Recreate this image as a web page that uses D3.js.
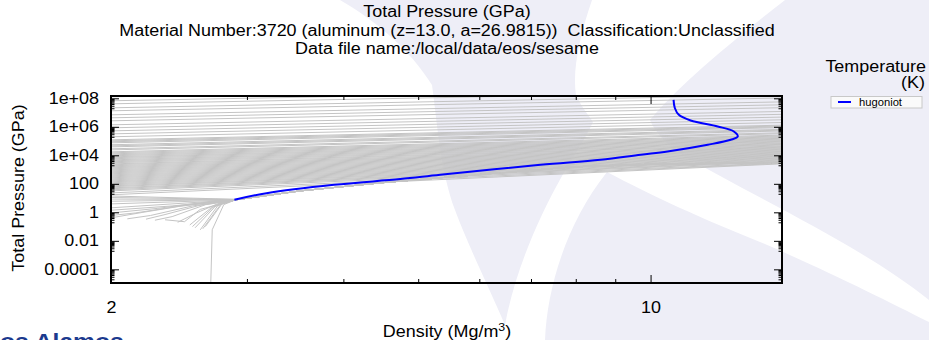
<!DOCTYPE html>
<html>
<head>
<meta charset="utf-8">
<script src="https://cdn.jsdelivr.net/npm/d3@7"></script>
<style>
  body { margin: 0; background: #fff; }
  svg { display: block; }
  text { font-family: "Liberation Sans", Arial, Helvetica, sans-serif; fill: #000; }
</style>
</head>
<body>
<svg id="chart" width="929" height="340"></svg>
<script>
// ---- data ----
const densityDomain = [2, 14.8];          // Mg/m^3
const pressureDomain = [1.1e-5, 1.45e8];  // GPa

const yMajorTicks = [1e-4, 1e-2, 1, 100, 1e4, 1e6, 1e8];
const yTickLabels = ["0.0001", "0.01", "1", "100", "1e+04", "1e+06", "1e+08"];
const xMajorTicks = [2, 10];
const xTickLabels = ["2", "10"];
const xMinorTicks = [3, 4, 5, 6, 7, 8, 9];

// hot isotherms: pressure at the left edge (rho=2) and at the right edge (rho=14.8)
const isothermEndDensity = [2, 14.8];
const hotLeftPressure = [1.27e8, 6.7e7, 4.1e7, 2.15e7, 1.33e7, 6.95e6, 4.28e6, 2.64e6, 1.38e6, 8.5e5,
  5.2e5, 3.2e5, 2.0e5, 1.22e5, 8.9e4, 5.5e4, 3.9e4, 2.4e4, 1.76e4, 1.27e4,
  9.2e3, 6.7e3, 4.8e3, 3.5e3, 2.5e3, 1.83e3, 1.33e3, 960, 695, 504,
  364, 264, 191, 138, 100, 72, 52, 38, 32, 23, 17,
  1.04e5, 7.5e4, 4.6e4, 2.86e4, 1.5e4, 1.08e4, 7.8e3, 5.7e3,
  4.1e3, 2.98e3, 2.15e3, 1.56e3, 1.13e3, 817, 592, 428, 310, 224, 162, 118, 85, 62, 45];
const hotRightPressure = [9.4e8, 5.0e8, 3.15e8, 1.68e8, 1.05e8, 5.6e7, 3.5e7, 2.19e7, 1.19e7, 7.5e6,
  4.8e6, 3.1e6, 2.0e6, 1.3e6, 1.0e6, 6.6e5, 5.1e5, 3.3e5, 2.6e5, 2.0e5,
  1.56e5, 1.22e5, 9.6e4, 7.5e4, 5.9e4, 4.6e4, 3.7e4, 2.95e4, 2.36e4, 1.88e4,
  1.5e4, 1.21e4, 9.8e3, 8.0e3, 6.5e3, 5.2e3, 4.2e3, 3.5e3, 2.98e3, 2.75e3, 2.53e3,
  1.14e6, 8.8e5, 5.8e5, 3.8e5, 2.26e5, 1.75e5, 1.37e5, 1.08e5,
  8.6e4, 6.7e4, 5.3e4, 4.1e4, 3.3e4, 2.64e4, 2.1e4, 1.68e4, 1.34e4, 1.08e4, 8.8e3, 7.1e3, 5.8e3, 4.7e3, 3.8e3];

// cold isotherms: low-density part, then they run along the cold curve
const coldCurveDensity = [2.9, 3.52, 4.47, 5.34, 7.95, 10, 14.8];
const coldCurvePressure = [7.5, 32, 117, 264, 1560, 2340, 3200];
const coldLowParts = [
  [[2, 14], [2.9, 8.2]],
  [[2, 11], [2.9, 8]],
  [[2, 8.5], [2.9, 7.8]],
  [[2, 6], [2.9, 7.7]],
  [[2, 3.9], [2.9, 7.5]],
  [[2, 2.07], [2.9, 7.5]],
  [[2, 1.4], [2.4, 2.8], [2.9, 7.5]],
  [[2, 0.9], [2.3, 1.9], [2.6, 4.5], [2.9, 7.5]],
  [[2, 0.6], [2.15, 0.9], [2.5, 3.2], [2.9, 7.5]],
  [[2, 0.41], [2.2, 1.0], [2.45, 2.6], [2.9, 7.5]],
  [[2.1, 0.35], [2.25, 0.6], [2.55, 2.8], [2.9, 7.5]],
  [[2.22, 0.33], [2.35, 0.7], [2.6, 3.0], [2.9, 7.5]],
  [[2.28, 0.28], [2.4, 0.5], [2.65, 3.4], [2.9, 7.5]],
  [[2.35, 0.3], [2.49, 0.22], [2.61, 1.6], [2.9, 7.5]],
  [[2.44, 0.2], [2.58, 0.9], [2.75, 4.0], [2.9, 7.5]],
  [[2.53, 0.13], [2.7, 2.2], [2.9, 7.5]],
  [[2.55, 0.1], [2.72, 2.6], [2.9, 7.5]],
  [[2.57, 0.082], [2.74, 3.2], [2.9, 7.5]],
  [[2.61, 0.059], [2.76, 3.8], [2.9, 7.5]],
  [[2.63, 0.07], [2.78, 4.2], [2.9, 7.5]],
  [[2.65, 0.1], [2.79, 4.5], [2.9, 7.5]],
  [[2.69, 1e-6], [2.705, 0.06], [2.8, 3.5], [2.9, 7.5]]
];

// hugoniot
const hugoniotDensity = [2.89, 3.18, 3.89, 4.74, 5.34, 7.2, 8.61, 9.71, 10.52, 11.86, 12.7, 12.97, 12.82, 12.22, 11.27, 10.88, 10.75, 10.71];
const hugoniotPressure = [7.6, 22, 85, 214, 427, 2140, 4790, 1.1e4, 1.86e4, 5.5e4, 1.23e5, 2.1e5, 4.7e5, 1.05e6, 2.75e6, 6.9e6, 2.1e7, 7.8e7];

const titleLines = [
  "Total Pressure (GPa)",
  "Material Number:3720 (aluminum (z=13.0, a=26.9815))  Classification:Unclassified",
  "Data file name:/local/data/eos/sesame"
];

// ---- drawing ----
const svg = d3.select("#chart");
const plot = { left: 111, right: 782, top: 96, bottom: 283 };
const STRETCH = 1.12;

function stretch(sel, k) {
  sel.each(function () {
    const len = this.getComputedTextLength();
    d3.select(this).attr("textLength", len * k).attr("lengthAdjust", "spacingAndGlyphs");
  });
}

// watermark (lab logo, very light)
const wm = svg.append("g").attr("fill", "#eeeef7");
wm.append("path").attr("d", "M340,0 L592,0 C580,35 572,70 576,95 C582,108 590,117 593,122 C585,140 572,158 562,176 C540,215 515,270 505,325 C490,290 468,245 455,210 C440,170 437,120 432,85 C410,50 378,22 340,0 Z");
wm.append("path").attr("d", "M785,0 L929,0 L929,300 C860,245 760,200 677,152 C662,140 653,128 650,120 C668,98 705,62 785,0 Z");
wm.append("path").attr("d", "M607,172 C650,195 705,220 760,242 C830,272 885,300 929,322 L929,340 L545,340 C547,290 565,225 607,172 Z");
svg.append("text")
  .attr("x", -15).attr("y", 349)
  .attr("font-size", 22).attr("font-weight", "bold")
  .style("fill", "#1c3a8e")
  .text("Los Alamos")
  .call(stretch, STRETCH);

const x = d3.scaleLog().domain(densityDomain).range([plot.left, plot.right]);
const y = d3.scaleLog().domain(pressureDomain).range([plot.bottom, plot.top]);

svg.append("clipPath").attr("id", "clip")
  .append("rect")
  .attr("x", plot.left).attr("y", plot.top)
  .attr("width", plot.right - plot.left).attr("height", plot.bottom - plot.top);

const line = d3.line().x(d => x(d[0])).y(d => y(d[1]));
const lines = svg.append("g").attr("clip-path", "url(#clip)");

// isotherms
hotLeftPressure.forEach((p, i) => {
  lines.append("path")
    .datum([[isothermEndDensity[0], p], [isothermEndDensity[1], hotRightPressure[i]]])
    .attr("d", line)
    .attr("fill", "none")
    .attr("stroke", "#c4c4c4")
    .attr("stroke-width", 1);
});
const coldCurve = coldCurveDensity.map((d, i) => [d, coldCurvePressure[i]]);
coldLowParts.forEach(part => {
  lines.append("path")
    .datum(part.concat(coldCurve.slice(1)))
    .attr("d", line)
    .attr("fill", "none")
    .attr("stroke", "#c4c4c4")
    .attr("stroke-width", 1);
});

// hugoniot
lines.append("path")
  .datum(hugoniotDensity.map((d, i) => [d, hugoniotPressure[i]]))
  .attr("d", line.curve(d3.curveCatmullRom.alpha(0.5)))
  .attr("fill", "none")
  .attr("stroke", "#0000ff")
  .attr("stroke-width", 2);

// minor y ticks sit in the decade just below each labelled one
const yMinorTicks = [];
yMajorTicks.forEach(v => { for (let m = 2; m <= 9; m++) yMinorTicks.push(m * v / 10); });

function styleAxis(g) {
  g.select(".domain").remove();
  g.selectAll("line").attr("stroke", "#000");
}

svg.append("g").attr("transform", `translate(${plot.left},0)`)
  .call(d3.axisLeft(y).tickValues(yMajorTicks).tickFormat((d, i) => yTickLabels[i]).tickSizeInner(-8).tickSizeOuter(0).tickPadding(12))
  .call(styleAxis)
  .call(g => g.selectAll("text").attr("font-size", 16).call(stretch, STRETCH));
svg.append("g").attr("transform", `translate(${plot.left},0)`)
  .call(d3.axisLeft(y).tickValues(yMinorTicks).tickFormat("").tickSizeInner(-3.5).tickSizeOuter(0))
  .call(styleAxis);
svg.append("g").attr("transform", `translate(${plot.right},0)`)
  .call(d3.axisRight(y).tickValues(yMajorTicks).tickFormat("").tickSizeInner(-8).tickSizeOuter(0))
  .call(styleAxis);
svg.append("g").attr("transform", `translate(${plot.right},0)`)
  .call(d3.axisRight(y).tickValues(yMinorTicks).tickFormat("").tickSizeInner(-3.5).tickSizeOuter(0))
  .call(styleAxis);

svg.append("g").attr("transform", `translate(0,${plot.bottom})`)
  .call(d3.axisBottom(x).tickValues(xMajorTicks).tickFormat((d, i) => xTickLabels[i]).tickSizeInner(-8).tickSizeOuter(0).tickPadding(19))
  .call(styleAxis)
  .call(g => g.selectAll("text").attr("font-size", 16).call(stretch, STRETCH));
svg.append("g").attr("transform", `translate(0,${plot.bottom})`)
  .call(d3.axisBottom(x).tickValues(xMinorTicks).tickFormat("").tickSizeInner(-4).tickSizeOuter(0))
  .call(styleAxis);
svg.append("g").attr("transform", `translate(0,${plot.top})`)
  .call(d3.axisTop(x).tickValues(xMajorTicks).tickFormat("").tickSizeInner(-8).tickSizeOuter(0))
  .call(styleAxis);
svg.append("g").attr("transform", `translate(0,${plot.top})`)
  .call(d3.axisTop(x).tickValues(xMinorTicks).tickFormat("").tickSizeInner(-4).tickSizeOuter(0))
  .call(styleAxis);

// frame
svg.append("rect")
  .attr("x", plot.left).attr("y", plot.top)
  .attr("width", plot.right - plot.left).attr("height", plot.bottom - plot.top)
  .attr("fill", "none").attr("stroke", "#000").attr("stroke-width", 2);

// titles
const titleY = [17, 36, 54];
titleLines.forEach((t, i) => {
  svg.append("text")
    .attr("x", 447).attr("y", titleY[i])
    .attr("text-anchor", "middle").attr("font-size", 16)
    .style("white-space", "pre")
    .text(t)
    .call(stretch, STRETCH);
});

// axis titles
const xLabel = svg.append("text")
  .attr("x", 447).attr("y", 337)
  .attr("text-anchor", "middle").attr("font-size", 16);
xLabel.append("tspan").text("Density (Mg/m");
xLabel.append("tspan").attr("dy", -6).attr("font-size", 11).text("3");
xLabel.append("tspan").attr("dy", 6).text(")");
xLabel.call(stretch, STRETCH);

svg.append("text")
  .attr("transform", "translate(24,188) rotate(-90)")
  .attr("text-anchor", "middle").attr("font-size", 16)
  .text("Total Pressure (GPa)")
  .call(stretch, STRETCH);

// legend
svg.append("text").attr("x", 926).attr("y", 72).attr("text-anchor", "end").attr("font-size", 16)
  .text("Temperature").call(stretch, STRETCH);
svg.append("text").attr("x", 925).attr("y", 88).attr("text-anchor", "end").attr("font-size", 16)
  .text("(K)").call(stretch, STRETCH);
svg.append("rect").attr("x", 831).attr("y", 96.5).attr("width", 91).attr("height", 11.5)
  .attr("fill", "#fafafa").attr("stroke", "#c8c8c8").attr("stroke-width", 1);
svg.append("line").attr("x1", 838).attr("x2", 851).attr("y1", 102).attr("y2", 102)
  .attr("stroke", "#0000ff").attr("stroke-width", 2);
svg.append("text").attr("x", 859).attr("y", 105.5).attr("font-size", 10)
  .text("hugoniot").call(stretch, STRETCH);
</script>
</body>
</html>
